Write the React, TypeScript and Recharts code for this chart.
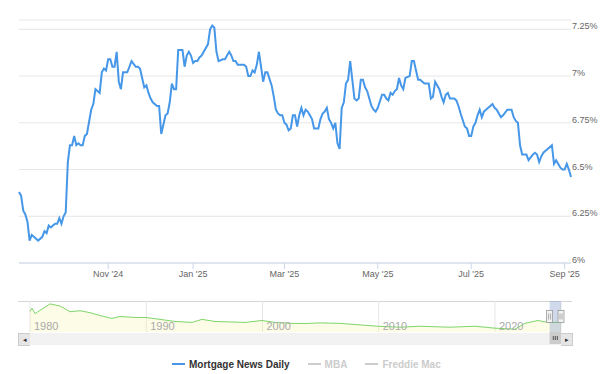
import React from "react";
import {
  LineChart,
  Line,
  XAxis,
  YAxis,
  CartesianGrid,
  AreaChart,
  Area,
  ReferenceArea,
} from "recharts";

// Mortgage News Daily 30yr fixed, one entry per trading session (ordinal x like Highstock)
const SESSION = [
  0, 1, 2, 3, 4, 5, 6, 7, 9, 11, 12, 13, 14, 15, 16, 17, 18, 19, 20, 21, 22, 23, 24, 25, 26, 27, 28, 29, 30,
  31, 32, 34, 35, 36, 37, 38, 39, 40, 41, 42, 43, 44, 45, 46, 47, 48, 49, 51, 52, 53, 55, 56, 57, 59, 60,
  61, 62, 63, 65, 66, 67, 68, 69, 70, 71, 72, 73, 74, 75, 77, 78, 79, 80, 81, 82, 83, 84, 85, 86, 88, 89,
  90, 91, 92, 93, 94, 96, 97, 99, 100, 101, 102, 103, 104, 106, 107, 108, 109, 110, 111, 112, 113, 114,
  115, 116, 117, 119, 120, 121, 122, 123, 124, 125, 126, 127, 128, 129, 130, 131, 132, 133, 134, 135, 136,
  137, 138, 139, 141, 142, 143, 144, 145, 146, 147, 148, 149, 150, 151, 152, 153, 154, 155, 156, 157, 158,
  159, 160, 161, 162, 163, 164, 166, 167, 168, 169, 171, 172, 173, 174, 175, 176, 177, 178, 179, 180, 181,
  182, 184, 185, 186, 187, 188, 189, 190, 191, 192, 193, 194, 195, 196, 197, 198, 199, 200, 201, 202, 203,
  205, 206, 207, 208, 210, 211, 212, 213, 214, 215, 216, 217, 218, 219, 221, 222, 223, 224, 225, 226, 227,
  228, 230, 231, 232, 233, 234, 235, 236, 237, 238, 239, 240, 242, 243, 244, 245, 246, 247, 248, 249, 251,
  252, 253, 254, 255, 256, 257, 258, 259, 260,
];
const MND_RATE = [
  6.38, 6.36, 6.28, 6.26, 6.22, 6.12, 6.15, 6.14, 6.12, 6.14, 6.17, 6.16, 6.2, 6.19, 6.2, 6.21, 6.21, 6.24,
  6.21, 6.25, 6.27, 6.54, 6.63, 6.63, 6.68, 6.63, 6.64, 6.63, 6.63, 6.68, 6.69, 6.82, 6.85, 6.93, 6.92,
  6.91, 7.02, 7.04, 7.03, 7.09, 7.09, 7.05, 7.05, 7.13, 6.97, 6.93, 7.02, 7.02, 7.05, 7.08, 7.05, 7.05,
  7.04, 6.94, 6.95, 6.91, 6.88, 6.86, 6.84, 6.84, 6.69, 6.74, 6.79, 6.8, 6.86, 6.96, 6.93, 6.93, 7.14,
  7.14, 7.05, 7.11, 7.13, 7.11, 7.07, 7.08, 7.08, 7.1, 7.11, 7.15, 7.17, 7.25, 7.27, 7.26, 7.13, 7.08,
  7.09, 7.09, 7.13, 7.11, 7.08, 7.08, 7.06, 7.06, 7.06, 7.05, 7.0, 7.0, 7.03, 7.02, 7.06, 7.13, 7.05,
  6.97, 7.02, 7.02, 6.95, 6.89, 6.82, 6.8, 6.79, 6.79, 6.75, 6.74, 6.71, 6.72, 6.79, 6.79, 6.73, 6.79,
  6.83, 6.79, 6.82, 6.81, 6.79, 6.77, 6.72, 6.72, 6.77, 6.8, 6.81, 6.83, 6.77, 6.75, 6.72, 6.75, 6.64,
  6.61, 6.83, 6.86, 6.96, 6.98, 7.08, 6.98, 6.88, 6.87, 6.88, 6.98, 6.98, 6.94, 6.92, 6.84, 6.82, 6.81,
  6.83, 6.9, 6.9, 6.88, 6.87, 6.91, 6.9, 6.92, 6.93, 6.99, 6.95, 6.93, 6.99, 7.0, 7.08, 7.08, 7.03, 6.98,
  6.98, 6.97, 6.96, 6.96, 6.96, 6.88, 6.89, 6.97, 6.95, 6.93, 6.89, 6.86, 6.9, 6.91, 6.88, 6.88, 6.87,
  6.84, 6.8, 6.73, 6.72, 6.68, 6.68, 6.73, 6.75, 6.79, 6.82, 6.78, 6.81, 6.83, 6.84, 6.85, 6.83, 6.82,
  6.8, 6.78, 6.79, 6.82, 6.82, 6.82, 6.78, 6.76, 6.75, 6.63, 6.58, 6.58, 6.58, 6.55, 6.58, 6.59, 6.58,
  6.54, 6.57, 6.59, 6.6, 6.61, 6.63, 6.53, 6.55, 6.53, 6.51, 6.5, 6.5, 6.53, 6.5, 6.46,
];

const TICK_SESSION = [42, 82, 125, 169, 213, 257];
const TICK_LABEL = ["Nov '24", "Jan '25", "Mar '25", "May '25", "Jul '25", "Sep '25"];
const RATE_TICKS = [6, 6.25, 6.5, 6.75, 7, 7.25];

// navigator: long history
const NAV_YEAR = [
  1980, 1980.17, 1980.43, 1981.72, 1982.58, 1983.44, 1984.3, 1985.16, 1986.02, 1987.05, 1987.74, 1989.03,
  1989.98, 1991.18, 1992.47, 1993.94, 1994.8, 1995.92, 1997.21, 1998.5, 1999.96, 2001.08, 2002.37, 2003.66,
  2004.95, 2006.67, 2008.82, 2009.94, 2011.83, 2013.55, 2016.13, 2018.28, 2020.0, 2021.72, 2022.58, 2023.7,
  2024.56, 2025.68,
];
const NAV_RATE = [
  13.8, 15.9, 12.4, 18.5, 17.2, 13.6, 14.2, 13.0, 11.2, 9.4, 10.6, 10.0, 10.0, 8.8, 7.5, 6.9, 8.8, 7.5, 7.2,
  6.9, 8.1, 6.9, 6.3, 6.2, 6.6, 6.3, 5.1, 4.5, 3.9, 4.5, 3.9, 4.5, 3.3, 2.7, 6.3, 8.1, 6.9, 6.9,
];
const NAV_TICKS = [1980, 1990, 2000, 2010, 2020];
const NAV_SELECTED = [2024.7, 2025.68];

const LEGEND = [
  { label: "Mortgage News Daily", color: "#4697e8", visible: true },
  { label: "MBA", color: "#cccccc", visible: false },
  { label: "Freddie Mac", color: "#cccccc", visible: false },
];

const LINE_COLOR = "#4697e8";
const NAV_COLOR = "#7fd66a";

const mainData = SESSION.map((s, i) => ({ s, rate: MND_RATE[i] }));
const navData = NAV_YEAR.map((year, i) => ({ year, rate: NAV_RATE[i] }));

function RateTick({ x, y, payload }: any) {
  return (
    <text x={x} y={y} fill="#666666" fontSize={9} textAnchor="start">
      {`${payload.value}%`}
    </text>
  );
}

function NavTick({ x, y, payload }: any) {
  return (
    <text x={x + 4} y={y - 2} fill="#aaaaaa" fontSize={11} textAnchor="start">
      {payload.value}
    </text>
  );
}

function NavMask({ x, y, width, height }: any) {
  const mid = y + height / 2;
  const handle = (hx: number) => (
    <g>
      <rect x={hx - 3} y={mid - 6} width={6} height={12} fill="#f2f2f2" stroke="#999999" strokeWidth={0.8} />
      <line x1={hx - 1} x2={hx - 1} y1={mid - 3} y2={mid + 3} stroke="#999999" strokeWidth={0.8} />
      <line x1={hx + 1} x2={hx + 1} y1={mid - 3} y2={mid + 3} stroke="#999999" strokeWidth={0.8} />
    </g>
  );
  return (
    <g>
      <rect x={x} y={y} width={width} height={height} fill="rgba(102,133,194,0.3)" />
      {/* scrollbar thumb */}
      <rect x={x} y={y + height} width={width} height={12} fill="#cccccc" />
      {[-2, 0, 2].map((d) => (
        <line
          key={d}
          x1={x + width / 2 + d}
          x2={x + width / 2 + d}
          y1={y + height + 4}
          y2={y + height + 8}
          stroke="#333333"
          strokeWidth={0.8}
        />
      ))}
      {handle(x)}
      {handle(x + width)}
    </g>
  );
}

export default function App() {
  return (
    <div
      style={{
        position: "absolute",
        left: 0,
        top: 0,
        width: 610,
        height: 374,
        background: "#ffffff",
        fontFamily: "'Liberation Sans', Arial, sans-serif",
      }}
    >
      <LineChart width={610} height={290} data={mainData} margin={{ top: 20, right: 0, bottom: 7, left: 19 }}>
        <CartesianGrid vertical={false} stroke="#e6e6e6" />
        <XAxis
          dataKey="s"
          type="number"
          domain={[0, 260]}
          ticks={TICK_SESSION}
          interval={0}
          height={20}
          tickFormatter={(v: number) => TICK_LABEL[TICK_SESSION.indexOf(v)]}
          axisLine={{ stroke: "#ccd6eb" }}
          tickLine={{ stroke: "#ccd6eb" }}
          tickSize={6}
          tickMargin={2}
          tick={{ fill: "#666666", fontSize: 9 }}
        />
        <YAxis
          orientation="right"
          width={39}
          type="number"
          domain={[6, 7.3]}
          ticks={RATE_TICKS}
          interval={0}
          axisLine={false}
          tickLine={false}
          tickSize={0}
          tickMargin={1}
          tick={<RateTick />}
        />
        <Line
          type="linear"
          dataKey="rate"
          stroke={LINE_COLOR}
          strokeWidth={2}
          dot={false}
          isAnimationActive={false}
        />
      </LineChart>

      {/* navigator outline + scrollbar track */}
      <div style={{ position: "absolute", left: 18, top: 301, width: 554, borderTop: "1px solid #d6d6d6" }} />
      <div style={{ position: "absolute", left: 30, top: 333, width: 531, height: 12, background: "#f2f2f2" }} />
      <div
        style={{
          position: "absolute",
          left: 18,
          top: 333,
          width: 11,
          height: 11,
          background: "#e6e6e6",
          border: "1px solid #cccccc",
          borderRight: "none",
          fontSize: 7,
          color: "#333",
          lineHeight: "11px",
          textAlign: "center",
        }}
      >
        ◂
      </div>
      <div
        style={{
          position: "absolute",
          left: 561,
          top: 333,
          width: 11,
          height: 11,
          background: "#e6e6e6",
          border: "1px solid #cccccc",
          borderLeft: "none",
          fontSize: 7,
          color: "#333",
          lineHeight: "11px",
          textAlign: "center",
        }}
      >
        ▸
      </div>

      <div style={{ position: "absolute", left: 0, top: 301 }}>
        <AreaChart width={610} height={44} data={navData} margin={{ top: 0, right: 49, bottom: 12, left: 30 }}>
          <CartesianGrid horizontal={false} stroke="#e6e6e6" />
          <XAxis
            dataKey="year"
            type="number"
            domain={[1980, 2025.68]}
            ticks={NAV_TICKS}
            interval={0}
            height={1}
            axisLine={false}
            tickLine={false}
            tickSize={0}
            tickMargin={0}
            tick={<NavTick />}
          />
          <YAxis hide type="number" domain={[0.9, 20.3]} />
          <Area
            type="linear"
            dataKey="rate"
            stroke={NAV_COLOR}
            strokeWidth={1}
            fill="#eeee88"
            fillOpacity={0.2}
            isAnimationActive={false}
          />
          <ReferenceArea x1={NAV_SELECTED[0]} x2={NAV_SELECTED[1]} shape={<NavMask />} />
        </AreaChart>
      </div>

      {/* legend */}
      <div
        style={{
          position: "absolute",
          left: 172,
          top: 357,
          display: "flex",
          alignItems: "center",
          fontSize: 10,
          fontWeight: "bold",
          height: 14,
        }}
      >
        {LEGEND.map((item, i) => (
          <div key={item.label} style={{ display: "flex", alignItems: "center", marginLeft: i === 0 ? 0 : 18 }}>
            <div style={{ width: 13, height: 2, background: item.visible ? item.color : "#cccccc", marginRight: 4 }} />
            <span style={{ color: item.visible ? "#333333" : "#cccccc" }}>{item.label}</span>
          </div>
        ))}
      </div>
    </div>
  );
}
